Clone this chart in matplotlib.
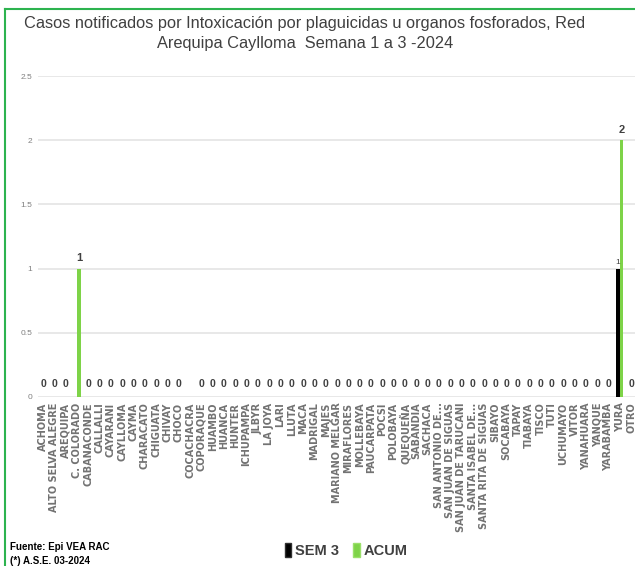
import numpy as np
import matplotlib
matplotlib.use('Agg')
import matplotlib.pyplot as plt
from matplotlib.lines import Line2D
from matplotlib.patches import Patch

# Distritos de la Red Arequipa Caylloma
distritos = [
    "ACHOMA", "ALTO SELVA ALEGRE", "AREQUIPA", "C. COLORADO", "CABANACONDE",
    "CALLALLI", "CAYARANI", "CAYLLOMA", "CAYMA", "CHARACATO", "CHIGUATA",
    "CHIVAY", "CHOCO", "COCACHACRA", "COPORAQUE", "HUAMBO", "HUANCA", "HUNTER",
    "ICHUPAMPA", "JLBYR", "LA JOYA", "LARI", "LLUTA", "MACA", "MADRIGAL",
    "MAJES", "MARIANO MELGAR", "MIRAFLORES", "MOLLEBAYA", "PAUCARPATA", "POCSI",
    "POLOBAYA", "QUEQUEÑA", "SABANDIA", "SACHACA", "SAN ANTONIO DE...",
    "SAN JUAN DE SIGUAS", "SAN JUAN DE TARUCANI", "SANTA ISABEL DE...",
    "SANTA RITA DE SIGUAS", "SIBAYO", "SOCABAYA", "TAPAY", "TIABAYA", "TISCO",
    "TUTI", "UCHUMAYO", "VITOR", "YANAHUARA", "YANQUE", "YARABAMBA", "YURA", "OTRO",
]

# casos de la semana 3 y acumulados (COCACHACRA sin dato)
sem3 = [0] * len(distritos)
acum = [0] * len(distritos)
sem3[distritos.index("YURA")] = 1
acum[distritos.index("C. COLORADO")] = 1
acum[distritos.index("YURA")] = 2
sem3[distritos.index("COCACHACRA")] = np.nan
acum[distritos.index("COCACHACRA")] = np.nan

sem3 = np.array(sem3, dtype=float)
acum = np.array(acum, dtype=float)

yticks = [0, 0.5, 1, 1.5, 2, 2.5]
ytick_labels = ["0", "0.5", "1", "1.5", "2", "2.5"]

titulo = ("Casos notificados por Intoxicación por plaguicidas u organos fosforados, Red\n"
          "Arequipa Caylloma  Semana 1 a 3 -2024")

arial = 'Liberation Sans'
gris = '#404040'
verde = '#7ed348'

fig = plt.figure(figsize=(6.35, 5.66), dpi=100)
ax = fig.add_axes([0.06, 0.2986, 0.94, 0.5671])

x = np.arange(len(distritos))
w = 0.3
ax.bar(x - 0.17, np.nan_to_num(sem3), width=w, color='black', zorder=3)
ax.bar(x + 0.17, np.nan_to_num(acum), width=w, color=verde, zorder=3)

# etiquetas de valores
for i in range(len(distritos)):
    s, a = sem3[i], acum[i]
    if np.isnan(s) or np.isnan(a):
        continue
    if s == 0 and a == 0:
        ax.annotate("0", (x[i], 0), xytext=(0, 6), textcoords='offset points',
                    ha='center', va='bottom', color=gris, fontsize=7.5,
                    fontweight='bold', family=arial)
        continue
    if a > 0:
        ax.annotate(f"{a:g}", (x[i] + 0.17, a), xytext=(0, 4), textcoords='offset points',
                    ha='center', va='bottom', color=gris, fontsize=8,
                    fontweight='bold', family=arial)
    if s > 0:
        ax.annotate(f"{s:g}", (x[i] - 0.17, s), xytext=(0, 2), textcoords='offset points',
                    ha='center', va='bottom', color=gris, fontsize=6, family=arial)

ax.set_ylim(0, 2.5)
ax.set_xlim(-0.44, 52.35)
ax.set_yticks(yticks)
ax.set_yticklabels(ytick_labels, color='#808080', fontsize=6, family=arial)
ax.set_xticks(x)
ax.set_xticklabels(distritos, rotation=90, fontsize=7.0, fontweight='bold', color='#727272')
ax.tick_params(length=0, pad=4)
ax.grid(axis='y', color='#e4e4e4', linewidth=1.2, zorder=0)
for sp in ax.spines.values():
    sp.set_visible(False)

fig.text(0.48, 0.972, titulo, ha='center', va='top', color=gris,
         fontsize=11.8, family=arial, linespacing=1.45)

handles = [Patch(facecolor='black', edgecolor='#303030'),
           Patch(facecolor=verde, edgecolor='#9be06b')]
fig.legend(handles, ["SEM 3", "ACUM"], loc='center', bbox_to_anchor=(0.545, 0.027),
           ncol=2, frameon=False, handlelength=0.45, handleheight=1.1, handletextpad=0.25,
           columnspacing=1.0, prop={'family': arial, 'weight': 'bold', 'size': 10.5},
           labelcolor=gris)

fig.text(0.016, 0.033, "Fuente: Epi VEA RAC", color='black', va='center',
         fontsize=7, fontweight='bold', family=arial)
fig.text(0.016, 0.008, "(*) A.S.E. 03-2024", color='black', va='center',
         fontsize=7, fontweight='bold', family=arial)

# marco verde
fig.add_artist(Line2D([0.008, 1.0], [0.984, 0.984], color='#2db34f', linewidth=1.5))
fig.add_artist(Line2D([0.008, 0.008], [0.0, 0.984], color='#2db34f', linewidth=1.5))

fig.savefig('out.png', dpi=100)
